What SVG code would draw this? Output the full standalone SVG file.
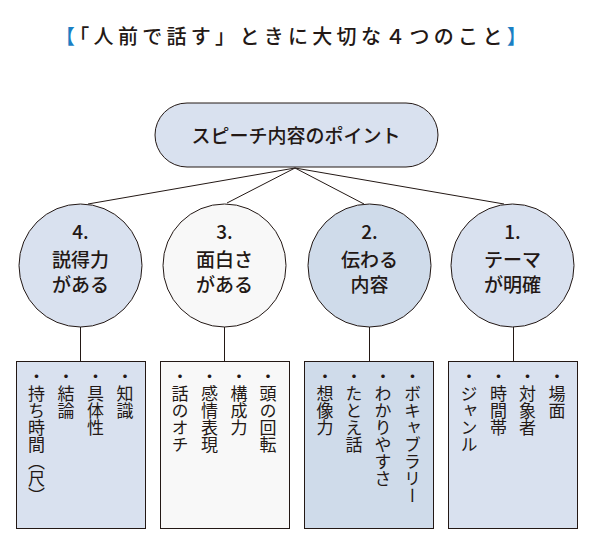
<svg xmlns="http://www.w3.org/2000/svg" width="596" height="549" viewBox="0 0 596 549">
<style>
text{font-family:"Noto Sans CJK JP","Noto Sans",sans-serif;fill:#231815}
.title{font-size:20px;font-weight:500;letter-spacing:4.3px}
.blue{fill:#1b7fc4}
.node{font-size:19px;font-weight:500;text-anchor:middle}
.v{font-size:17px;writing-mode:vertical-rl}
.sh{stroke:#231815;stroke-width:1}
.c{stroke:#231815;stroke-width:1;fill:none}
</style>
<rect width="596" height="549" fill="#ffffff"/>
<text id="title" class="title" x="55" y="44"><tspan class="blue">【</tspan>「人前で話す」ときに大切な４つのこと<tspan class="blue">】</tspan></text>
<g id="connectors">
<path class="c" d="M295 168 L88 204 M295 168 L227 203 M295 168 L364 204 M295 168 L504 204"/>
<path class="c" d="M80.5 327 V362 M224.5 327 V362 M369.5 327 V362 M513.5 327 V362"/>
</g>
<g id="root">
<rect class="sh" x="155" y="103" width="283" height="64" rx="32" fill="#d9e1ef"/>
<text class="node" x="296" y="143">スピーチ内容のポイント</text>
</g>
<g id="n4">
<circle class="sh" cx="80.5" cy="265.5" r="61.5" fill="#d9e1ef"/>
<text class="node" x="80.5" y="239">4.</text>
<text class="node" x="80.5" y="267">説得力</text>
<text class="node" x="80.5" y="292">がある</text>
</g>
<g id="n3">
<circle class="sh" cx="224.5" cy="265.5" r="61.5" fill="#f8f8f8"/>
<text class="node" x="224.5" y="239">3.</text>
<text class="node" x="224.5" y="267">面白さ</text>
<text class="node" x="224.5" y="292">がある</text>
</g>
<g id="n2">
<circle class="sh" cx="369.5" cy="265.5" r="61.5" fill="#cfdbea"/>
<text class="node" x="369.5" y="239">2.</text>
<text class="node" x="369.5" y="267">伝わる</text>
<text class="node" x="369.5" y="292">内容</text>
</g>
<g id="n1">
<circle class="sh" cx="512.5" cy="265.5" r="61.5" fill="#d9e1ef"/>
<text class="node" x="512.5" y="239">1.</text>
<text class="node" x="512.5" y="267">テーマ</text>
<text class="node" x="512.5" y="292">が明確</text>
</g>
<g id="b4">
<rect class="sh" x="16.5" y="361.5" width="129" height="167" fill="#d9e1ef"/>
<text class="v" x="125" y="368">・知識</text>
<text class="v" x="95.5" y="368">・具体性</text>
<text class="v" x="66" y="368">・結論</text>
<text class="v" x="36.5" y="368">・持ち時間（尺）</text>
</g>
<g id="b3">
<rect class="sh" x="160.5" y="361.5" width="129" height="167" fill="#f8f8f8"/>
<text class="v" x="268" y="368">・頭の回転</text>
<text class="v" x="239" y="368">・構成力</text>
<text class="v" x="209.5" y="368">・感情表現</text>
<text class="v" x="180" y="368">・話のオチ</text>
</g>
<g id="b2">
<rect class="sh" x="304.5" y="361.5" width="129" height="167" fill="#cfdbea"/>
<text class="v" x="412.5" y="368">・ボキャブラリー</text>
<text class="v" x="383" y="368">・わかりやすさ</text>
<text class="v" x="354" y="368">・たとえ話</text>
<text class="v" x="325" y="368">・想像力</text>
</g>
<g id="b1">
<rect class="sh" x="448.5" y="361.5" width="129" height="167" fill="#d9e1ef"/>
<text class="v" x="557" y="368">・場面</text>
<text class="v" x="527.5" y="368">・対象者</text>
<text class="v" x="498.5" y="368">・時間帯</text>
<text class="v" x="469" y="368">・ジャンル</text>
</g>
</svg>
